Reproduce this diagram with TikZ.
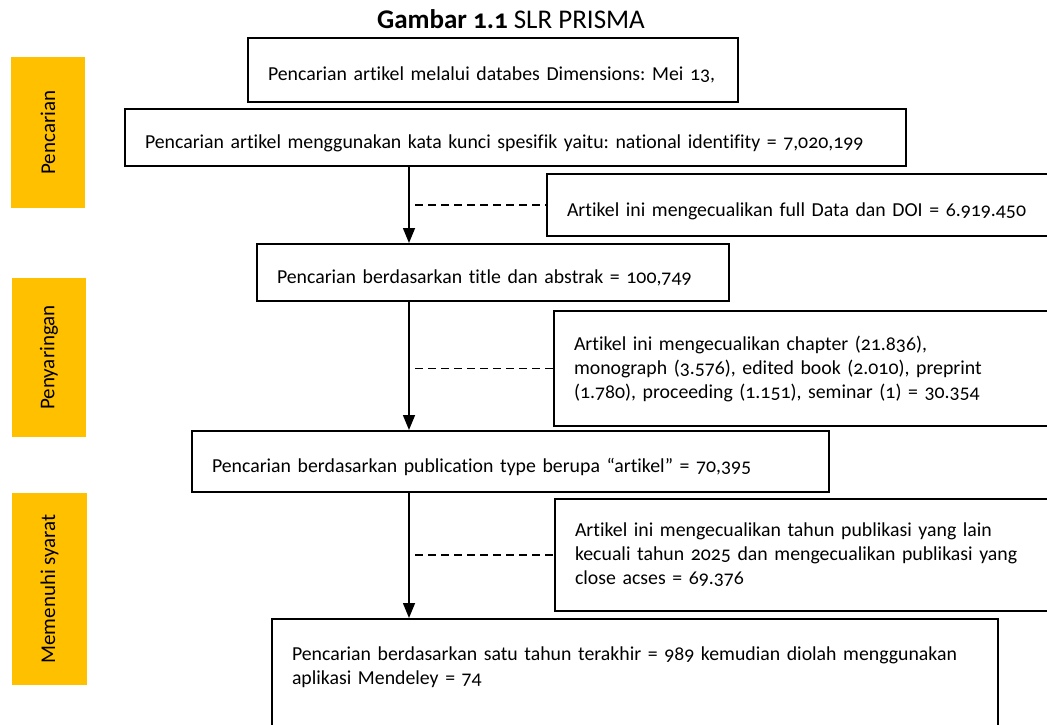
\documentclass[tikz,border=0pt]{standalone}
\usepackage{fontspec}
\setmainfont{Carlito}[Numbers=OldStyle,Ligatures=NoCommon]
\usetikzlibrary{arrows.meta}

\begin{document}
\begin{tikzpicture}[x=1pt,y=-1pt,
        flowbox/.style={draw,line width=2pt,anchor=north west,inner xsep=20pt,inner ysep=0pt,align=left},
        oneline/.style={flowbox,text height=22pt,text depth=0pt},
        stagebox/.style={fill=r255g192b0,rotate=90,inner sep=0pt,font=\fontsize{21}{24}\selectfont},
        flowarrow/.style={line width=1.5pt,-{Triangle[length=15pt,width=12pt]}},
        skipline/.style={line width=1.5pt,dash pattern=on 8pt off 5pt}]
        \useasboundingbox (0,0) rectangle (1047,725);
        \clip (0,0) rectangle (1047,725);
        {\fontsize{19.8}{24}\selectfont\frenchspacing

        % Changing color 255 192 0
        \definecolor{r255g192b0}{rgb}{1.000000,0.752941,0.000000}%

        % Drawing title
        \node[font=\fontsize{27}{30}\selectfont] (title) at (511,19) {\textbf{Gambar 1.1} SLR PRISMA};%

        % Drawing stage boxes on the left
        \node[stagebox,minimum width=151pt,minimum height=74pt] (pencarian) at (48,132.5) {Pencarian};%
        \node[stagebox,minimum width=159pt,minimum height=74pt] (penyaringan) at (49,357.5) {Penyaringan};%
        \node[stagebox,minimum width=192pt,minimum height=75pt] (syarat) at (49.5,589) {Memenuhi syarat};%

        % Drawing main flow boxes
        \node[oneline,text width=450pt,minimum height=64pt] (database) at (247,37) {Pencarian artikel melalui databes Dimensions: Mei 13,};%
        \node[oneline,text width=741pt,minimum height=57pt] (keyword) at (124,108) {Pencarian artikel menggunakan kata kunci spesifik yaitu: national identifity = 7,020,199};%
        \node[oneline,text width=432pt,minimum height=57pt] (titleabs) at (256,243) {Pencarian berdasarkan title dan abstrak = 100,749};%
        \node[oneline,text width=597pt,minimum height=61pt] (pubtype) at (191,430) {Pencarian berdasarkan publication type berupa “artikel” = 70,395};%
        \node[flowbox,text width=686pt,minimum height=124pt] (lastyear) at (271,618) {\mbox{Pencarian berdasarkan satu tahun terakhir = 989 kemudian diolah menggunakan}\\aplikasi Mendeley = 74\\\strut};%

        % Drawing exclusion boxes
        \node[oneline,text width=479pt,minimum height=62pt] (exclfull) at (546,173) {Artikel ini mengecualikan full Data dan DOI = 6.919.450};%
        \node[flowbox,text width=472pt,minimum height=115pt] (excltype) at (553,310) {Artikel ini mengecualikan chapter (21.836),\\monograph (3.576), edited book (2.010), preprint\\(1.780), proceeding (1.151), seminar (1) = 30.354};%
        \node[flowbox,text width=471pt,minimum height=112pt] (exclyear) at (554,498) {Artikel ini mengecualikan tahun publikasi yang lain\\\mbox{kecuali tahun 2025 dan mengecualikan publikasi yang}\\close acses = 69.376};%

        % Drawing arrows down the flow
        \coordinate (col) at (409,0);
        \coordinate (dashcol) at (415,0);
        \draw[flowarrow] (keyword.south -| col) -- (titleabs.north -| col);%
        \draw[flowarrow] (titleabs.south -| col) -- (pubtype.north -| col);%
        \draw[flowarrow] (pubtype.south -| col) -- (lastyear.north -| col);%

        % Drawing dashed lines to exclusion boxes
        \draw[skipline] (dashcol |- exclfull.west) -- (exclfull.west);%
        \draw[skipline] (dashcol |- excltype.west) -- (excltype.west);%
        \draw[skipline] (dashcol |- exclyear.west) -- (exclyear.west);%
        }
    \end{tikzpicture}
\end{document}
